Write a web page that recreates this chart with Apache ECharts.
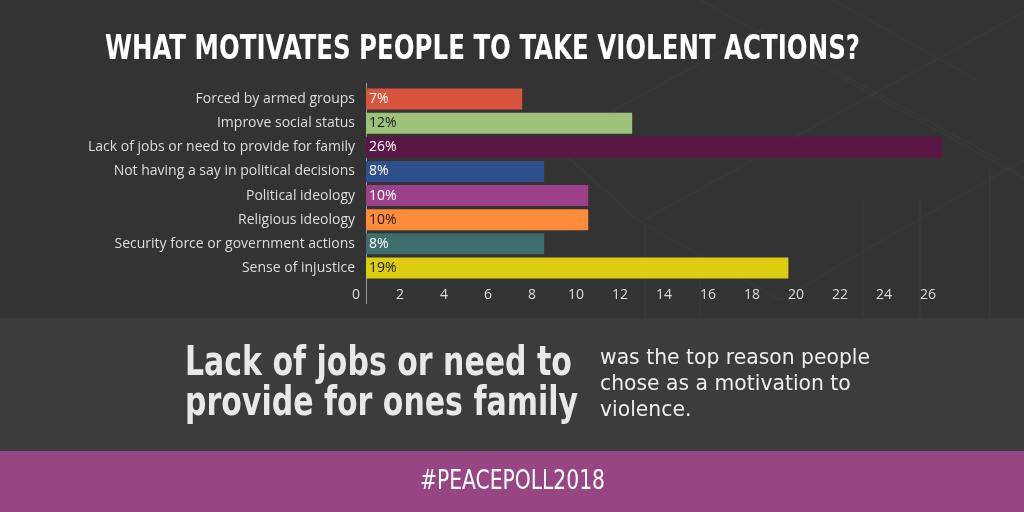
<!DOCTYPE html>
<html>
<head>
<meta charset="utf-8">
<script src="https://cdn.jsdelivr.net/npm/echarts@6/dist/echarts.min.js"></script>
<style>
  html, body { margin: 0; padding: 0; background: #333333; }
  #chart { width: 1024px; height: 512px; }
</style>
</head>
<body>
<div id="chart"></div>
<script>
// chart data
const categories = [
  'Forced by armed groups',
  'Improve social status',
  'Lack of jobs or need to provide for family',
  'Not having a say in political decisions',
  'Political ideology',
  'Religious ideology',
  'Security force or government actions',
  'Sense of injustice'
];
const values = [7.1, 12.1, 26.2, 8.1, 10.1, 10.1, 8.1, 19.2];
const percentLabels = ['7%', '12%', '26%', '8%', '10%', '10%', '8%', '19%'];
const barColors = ['#d9543f', '#9dc17b', '#5a1745', '#2d4f8b', '#9c4189', '#ff8c3a', '#3e6e6b', '#dccd10'];
const labelColors = ['#ffffff', '#1a1a1a', '#ffffff', '#ffffff', '#ffffff', '#1a1a1a', '#ffffff', '#1a1a1a'];

const titleText = 'WHAT MOTIVATES PEOPLE TO TAKE VIOLENT ACTIONS?';
const bigLines = ['Lack of jobs or need to', 'provide for ones family'];
const smallLines = ['was the top reason people', 'chose as a motivation to', 'violence.'];
const hashtag = '#PEACEPOLL2018';

const condensed = '"DejaVu Sans Condensed", "DejaVu Sans"';

// squeeze text into a target width
const measureCtx = document.createElement('canvas').getContext('2d');
function fitScale(text, font, width) {
  measureCtx.font = font;
  return width / measureCtx.measureText(text).width;
}

const titleFont = 'bold 34px ' + condensed;
const bigFont = 'bold 40px ' + condensed;
const smallFont = '22px ' + condensed;
const tagFont = '27px ' + condensed;

const titleScale = fitScale(titleText, titleFont, 755);
const bigScale = fitScale(bigLines[1], bigFont, 393);
const smallScale = fitScale(smallLines[0], smallFont, 270);
const tagScale = fitScale(hashtag, tagFont, 185);

function squeezedText(text, font, x, y, scale, color) {
  return {
    type: 'text',
    x: x,
    y: y,
    scaleX: scale,
    silent: true,
    style: {
      text: text,
      font: font,
      fill: color,
      textAlign: 'left',
      textVerticalAlign: 'middle'
    }
  };
}

// faint background pattern in the top panel
const patternSegments = [
  [833, 0, 977, 80], [1024, 12, 813, 127], [813, 127, 640, 222],
  [700, 0, 1024, 178], [600, 118, 760, 30], [760, 30, 1000, 160],
  [640, 222, 780, 300], [780, 300, 900, 230], [900, 230, 1024, 160],
  [863, 200, 863, 318], [920, 200, 920, 318], [645, 228, 645, 318], [700, 255, 700, 318],
  [990, 170, 990, 318], [560, 150, 640, 222]
];

const myChart = echarts.init(document.getElementById('chart'));

const option = {
  backgroundColor: '#333333',
  animation: false,
  grid: {
    left: 366,
    right: 64,
    top: 87,
    height: 193,
    containLabel: false
  },
  xAxis: {
    type: 'value',
    min: 0,
    max: 27,
    interval: 2,
    splitLine: { show: false },
    axisLine: { show: false },
    axisTick: { show: false },
    axisLabel: {
      color: '#dddddd',
      fontSize: 14,
      fontFamily: 'Open Sans',
      margin: 8,
      padding: [0, 20, 0, 0],
      formatter: v => (v % 2 === 0 ? String(v) : '')
    }
  },
  yAxis: {
    type: 'category',
    inverse: true,
    data: categories,
    axisLine: { show: true, lineStyle: { color: '#9a9a9a', width: 1 } },
    axisTick: { show: false },
    axisLabel: {
      color: '#dddddd',
      fontSize: 14,
      fontFamily: 'Open Sans',
      margin: 11
    }
  },
  series: [
    {
      type: 'bar',
      barCategoryGap: '13%',
      data: values.map((v, i) => ({
        value: v,
        itemStyle: { color: barColors[i] },
        label: { color: labelColors[i] }
      })),
      label: {
        show: true,
        position: 'insideLeft',
        distance: 3,
        fontSize: 14,
        fontFamily: 'Open Sans',
        formatter: p => percentLabels[p.dataIndex]
      }
    }
  ],
  graphic: [
    // bands
    { type: 'rect', silent: true, z: -10, shape: { x: 0, y: 318, width: 1024, height: 133 }, style: { fill: '#3c3c3c' } },
    { type: 'rect', silent: true, z: -10, shape: { x: 0, y: 451, width: 1024, height: 61 }, style: { fill: '#984583' } },
    ...patternSegments.map(s => ({
      type: 'line', silent: true, z: -20,
      shape: { x1: s[0], y1: s[1], x2: s[2], y2: s[3] },
      style: { stroke: 'rgba(255,255,255,0.018)', lineWidth: 2 }
    })),
    // axis line extensions
    { type: 'line', silent: true, shape: { x1: 366.5, y1: 83, x2: 366.5, y2: 87 }, style: { stroke: '#9a9a9a', lineWidth: 1 } },
    { type: 'line', silent: true, shape: { x1: 366.5, y1: 280, x2: 366.5, y2: 304 }, style: { stroke: '#9a9a9a', lineWidth: 1 } },
    squeezedText(titleText, titleFont, 105, 50, titleScale, '#ffffff'),
    squeezedText(bigLines[0], bigFont, 185, 365, bigScale, '#e8e8e8'),
    squeezedText(bigLines[1], bigFont, 185, 405, bigScale, '#e8e8e8'),
    squeezedText(smallLines[0], smallFont, 600, 358, smallScale, '#eeeeee'),
    squeezedText(smallLines[1], smallFont, 600, 384, smallScale, '#eeeeee'),
    squeezedText(smallLines[2], smallFont, 600, 410, smallScale, '#eeeeee'),
    squeezedText(hashtag, tagFont, 420, 482, tagScale, '#ffffff')
  ]
};

option && myChart.setOption(option);
</script>
</body>
</html>
